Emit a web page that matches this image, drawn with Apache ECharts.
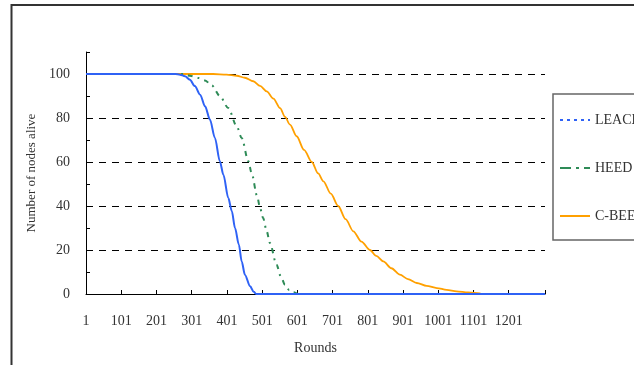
<!DOCTYPE html>
<html>
<head>
<meta charset="utf-8">
<script src="https://cdn.jsdelivr.net/npm/echarts@6/dist/echarts.min.js"></script>
<style>
  html, body { margin: 0; padding: 0; background: #fff; }
  #main { width: 634px; height: 365px; }
</style>
</head>
<body>
<div id="main"></div>
<script>
// rounds / nodes alive
var leachRounds = [1, 255, 268, 282, 296, 310, 325, 339, 353, 367, 381, 391, 405, 415, 424, 435, 443, 452, 467, 477, 484, 1304];
var leachAlive  = [100, 100, 99.7, 99, 97.4, 94.5, 90.6, 85.3, 79.2, 70.9, 60.3, 54.2, 43.6, 37.6, 30, 22.4, 14.8, 8.8, 3.5, 1, 0, 0];

var heedRounds = [1, 280, 296, 320, 339, 358, 381, 405, 429, 443, 462, 471, 487, 495, 504, 514, 523, 542, 554, 566, 578, 590, 604, 1304];
var heedAlive  = [100, 100, 99.2, 98.2, 97.1, 94.8, 90, 84.5, 76.2, 70.9, 60.3, 55, 44.4, 39.1, 34.5, 28.5, 23.2, 13.3, 8, 4.2, 1.8, 0.8, 0, 0];

var cbeeRounds = [1, 362, 400, 429, 452, 476, 495, 514, 533, 552, 566, 580, 599, 620, 642, 660, 675, 696, 717, 738, 760, 783, 807, 825, 845, 868, 892, 915, 940, 968, 997, 1025, 1053, 1086, 1119, 1122];
var cbeeAlive  = [100, 100, 99.7, 99.2, 98.3, 96.7, 94.6, 92.1, 88.8, 84.5, 80.5, 77, 71.7, 65.5, 60, 54.8, 51.2, 45.6, 40, 34, 28.5, 23.8, 20, 17.3, 14.8, 11.7, 8.8, 6.8, 5, 3.7, 2.7, 1.9, 1.2, 0.7, 0.3, 0];

var xTickLabels = [1, 101, 201, 301, 401, 501, 601, 701, 801, 901, 1001, 1101, 1201];
var xTicks = xTickLabels.concat([1304]);
var gridValues = [20, 40, 60, 80, 100];

function pairs(xs, ys) {
    return xs.map(function (x, i) { return [x, ys[i]]; });
}

var font = 'Liberation Serif, Times New Roman, serif';
var chart = echarts.init(document.getElementById('main'));

var option = {
    animation: false,
    grid: {
        left: 86,
        right: 89,
        top: 52,
        bottom: 71,
        containLabel: false,
        outerBoundsMode: 'none'
    },
    graphic: [{
        type: 'rect',
        shape: {x: 11.5, y: 5, width: 800, height: 500},
        style: {fill: 'none', stroke: '#333', lineWidth: 2},
        silent: true
    }],
    legend: {
        orient: 'vertical',
        left: 553,
        top: 94,
        padding: [19, 12, 17, 6],
        itemWidth: 30,
        itemHeight: 14,
        itemGap: 34,
        borderColor: '#666',
        borderWidth: 1.5,
        borderRadius: 0,
        itemStyle: {opacity: 0}, // hide the circle, keep only the line
        textStyle: {fontFamily: font, fontSize: 14, color: '#333'},
        data: [
            {name: 'LEACH', lineStyle: {type: [3, 4], width: 2}},
            {name: 'HEED', lineStyle: {type: [11, 5, 3, 5], width: 2}},
            {name: 'C-BEE', lineStyle: {type: 'solid', width: 2}}
        ]
    },
    xAxis: {
        type: 'value',
        min: 1,
        max: 1304,
        name: 'Rounds',
        nameLocation: 'middle',
        nameGap: 47,
        nameTextStyle: {fontFamily: font, fontSize: 14, color: '#333'},
        axisLine: {lineStyle: {color: '#000', width: 1}},
        axisTick: {inside: true, length: 4, lineStyle: {color: '#000'}, customValues: xTicks},
        axisLabel: {
            fontFamily: font, fontSize: 14, color: '#333', margin: 20,
            customValues: xTickLabels,
            formatter: function (v) { return String(v); }
        },
        splitLine: {show: false}
    },
    yAxis: {
        type: 'value',
        min: 0,
        max: 110,
        interval: 10,
        name: 'Number of nodes alive',
        nameLocation: 'middle',
        nameGap: 47,
        nameTextStyle: {fontFamily: font, fontSize: 13, color: '#333'},
        axisLine: {show: true, lineStyle: {color: '#000', width: 1}},
        axisTick: {show: true, inside: true, length: 4, lineStyle: {color: '#000'}},
        axisLabel: {
            fontFamily: font, fontSize: 14, color: '#333', margin: 16,
            padding: [5, 0, 0, 0],
            formatter: function (v) {
                return (v % 20 === 0 && v <= 100) ? String(v) : '';
            }
        },
        splitLine: {show: false}
    },
    series: [
        {
            name: 'C-BEE',
            type: 'line',
            data: pairs(cbeeRounds, cbeeAlive),
            symbol: 'none',
            smooth: 0.3,
            smoothMonotone: 'x',
            color: '#FFA000',
            lineStyle: {color: '#FFA000', width: 1.8},
            z: 2,
            markLine: {
                silent: true,
                symbol: 'none',
                label: {show: false},
                lineStyle: {color: '#000', type: [7, 6], width: 1},
                data: gridValues.map(function (v) { return {yAxis: v}; }),
                z: 1
            }
        },
        {
            name: 'HEED',
            type: 'line',
            data: pairs(heedRounds, heedAlive),
            symbol: 'none',
            smooth: 0.3,
            smoothMonotone: 'x',
            color: '#2E8B57',
            lineStyle: {color: '#2E8B57', width: 2, type: [5, 5, 2, 5]},
            z: 3
        },
        {
            name: 'LEACH',
            type: 'line',
            data: pairs(leachRounds, leachAlive),
            symbol: 'none',
            smooth: 0.3,
            smoothMonotone: 'x',
            color: '#2F62F5',
            lineStyle: {color: '#2F62F5', width: 2},
            z: 4
        }
    ]
};

chart.setOption(option);
</script>
</body>
</html>
